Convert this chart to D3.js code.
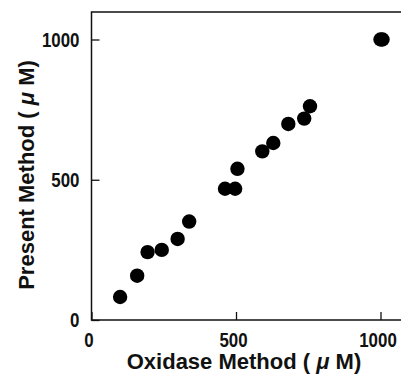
<!DOCTYPE html>
<html>
<head>
<meta charset="utf-8">
<script src="https://cdn.jsdelivr.net/npm/d3@7"></script>
<style>
  html, body { margin: 0; padding: 0; background: #fff; }
  svg { display: block; }
</style>
</head>
<body>
<svg id="chart" width="401" height="387"></svg>
<script>
// values (μM)
var oxidase = [99, 158, 194, 243, 298, 338, 462, 497, 505, 591, 629, 681, 736, 756, 1000, 1007]
var present = [82, 158, 242, 250, 289, 351, 468, 468, 539, 601, 631, 699, 718, 762, 1000, 1000]
var tickValues = [0, 500, 1000]

var width = 401
var height = 387
var margin = {top: 12, right: 0, bottom: 67, left: 91.5}

var svg = d3.select('#chart')

var x = d3.scaleLinear()
  .domain([0, 1000])
  .range([margin.left, 380.5])

var y = d3.scaleLinear()
  .domain([0, 1000])
  .range([height - margin.bottom, 39.5])

var ink = '#111'
var font = '"Liberation Sans", Arial, sans-serif'

// frame: left, top and bottom edges
svg.append('path')
  .attr('d', `M${width},${margin.top}H${margin.left}V${height - margin.bottom}H${width}`)
  .attr('fill', 'none')
  .attr('stroke', ink)
  .attr('stroke-width', 1.5)

var xAxis = svg.append('g')
  .attr('transform', `translate(0,${height - margin.bottom})`)
  .call(d3.axisBottom(x).tickValues(tickValues).tickSizeInner(-8).tickSizeOuter(0).tickPadding(12).tickFormat(d3.format('d')))

var yAxis = svg.append('g')
  .attr('transform', `translate(${margin.left},0)`)
  .call(d3.axisLeft(y).tickValues(tickValues).tickSizeInner(-8).tickSizeOuter(0).tickPadding(12).tickFormat(d3.format('d')))

for (var g of [xAxis, yAxis]) {
  g.select('.domain').remove()
  g.selectAll('.tick line').attr('stroke', ink).attr('stroke-width', 1.3)
  // narrow, tall digits like the original typeface
  g.selectAll('.tick text')
    .attr('fill', ink)
    .attr('textLength', d => String(d).length * 9.4)
    .attr('lengthAdjust', 'spacingAndGlyphs')
    .style('font-family', font)
    .style('font-size', '21px')
    .style('font-weight', '600')
}
xAxis.selectAll('.tick text').attr('dx', -3)

svg.append('g')
  .attr('fill', '#000')
  .selectAll('circle')
  .data(oxidase)
  .join('circle')
  .attr('cx', (d, i) => x(d))
  .attr('cy', (d, i) => y(present[i]))
  .attr('r', 7.2)

function title(sel, label) {
  sel.attr('text-anchor', 'middle')
    .attr('fill', ink)
    .style('font-family', font)
    .style('font-weight', 'bold')
    .style('font-size', '22px')
  sel.append('tspan').text(label + ' ( ')
  sel.append('tspan').style('font-style', 'italic').text('μ')
  sel.append('tspan').text(' M)')
}

svg.append('text')
  .attr('x', 244)
  .attr('y', 369)
  .call(title, 'Oxidase Method')

svg.append('text')
  .attr('transform', 'translate(34,175) rotate(-90)')
  .call(title, 'Present Method')
</script>
</body>
</html>
